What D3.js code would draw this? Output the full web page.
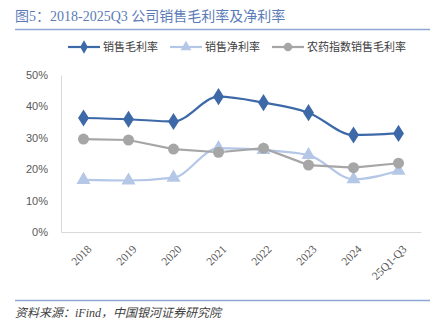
<!DOCTYPE html>
<html><head><meta charset="utf-8">
<script src="https://cdn.jsdelivr.net/npm/d3@7"></script>
<style>body{margin:0;background:#fff;} svg{display:block;}</style>
</head><body>
<svg id="c" width="437" height="331"></svg>
<script>
const categories = ["2018","2019","2020","2021","2022","2023","2024","25Q1-Q3"];
const grossMargin = [36.3, 35.9, 35.2, 43.1, 41.2, 38.0, 30.9, 31.4];
const netMargin = [16.6, 16.4, 17.3, 26.7, 26.1, 24.5, 16.8, 19.5];
const industryGross = [29.6, 29.3, 26.4, 25.4, 26.7, 21.3, 20.5, 21.9];
const yTicks = [0, 10, 20, 30, 40, 50];
const seriesNames = ["销售毛利率", "销售净利率", "农药指数销售毛利率"];

const svg = d3.select("#c");
const cjk = "'Liberation Serif','DejaVu Serif','Noto Sans CJK SC',serif";
const sans = "'Liberation Sans','Noto Sans CJK SC',sans-serif";

// title
svg.append("text").attr("x", 15).attr("y", 21).attr("fill", "#5B7BB8")
  .style("font-family", cjk).style("font-size", "14px").text("图5：2018-2025Q3 公司销售毛利率及净利率");
svg.append("line").attr("x1", 15).attr("x2", 430).attr("y1", 29.5).attr("y2", 29.5)
  .attr("stroke", "#8EA6D2").attr("stroke-width", 1.5);

const x = d3.scaleBand().domain(categories).range([61, 421]);
const y = d3.scaleLinear().domain([0, 50]).range([232, 75]);
const cx = d => x(d) + x.bandwidth() / 2;

// y axis
const ya = svg.append("g").attr("transform", "translate(61,0)")
  .call(d3.axisLeft(y).tickValues(yTicks).tickSize(0).tickPadding(13).tickFormat(d => d + "%"));
ya.select(".domain").attr("stroke", "#D9D9D9");
ya.selectAll("text").attr("fill", "#595959").style("font-family", sans).style("font-size", "11px");

// x axis
const xa = svg.append("g").attr("transform", "translate(0,232)")
  .call(d3.axisBottom(x).tickSize(0).tickFormat(d => d));
xa.select(".domain").attr("stroke", "#D9D9D9");
xa.selectAll("text").attr("fill", "#595959").style("font-family", "'Liberation Serif',serif").style("font-size", "11.5px")
  .attr("text-anchor", "end").attr("y", 0).attr("dy", "0.35em")
  .attr("transform", "translate(6,15) rotate(-45)");

const colors = ["#3E69A8", "#B4C7E7", "#A6A6A6"];
const data = [grossMargin, netMargin, industryGross];
const curves = [d3.curveMonotoneX, d3.curveMonotoneX, d3.curveLinear];
const symbols = [d3.symbolDiamond, d3.symbolTriangle, d3.symbolCircle];
const sizes = [85, 85, 95];

data.forEach((vals, i) => {
  const line = d3.line().x((d, j) => cx(categories[j])).y(d => y(d)).curve(curves[i]);
  svg.append("path").datum(vals).attr("d", line).attr("fill", "none")
    .attr("stroke", colors[i]).attr("stroke-width", 2.2);
});
data.forEach((vals, i) => {
  svg.append("g").selectAll("path").data(vals).join("path")
    .attr("d", d3.symbol().type(symbols[i]).size(sizes[i]))
    .attr("transform", (d, j) => `translate(${cx(categories[j])},${y(d)})${i===0?" scale(1.1,1)":""}`)
    .attr("fill", colors[i]);
});

// legend
const legX = [68, 170, 272];
seriesNames.forEach((n, i) => {
  const g = svg.append("g").attr("transform", `translate(${legX[i]},47)`);
  g.append("line").attr("x1", 0).attr("x2", 32).attr("stroke", colors[i]).attr("stroke-width", 2.2);
  g.append("path").attr("d", d3.symbol().type(symbols[i]).size(sizes[i] * 0.6)).attr("transform", "translate(16,0)").attr("fill", colors[i]);
  g.append("text").attr("x", 35).attr("y", 4).attr("fill", "#404040")
    .style("font-family", sans).style("font-size", "11px").text(n);
});

// source
svg.append("line").attr("x1", 15).attr("x2", 430).attr("y1", 300.5).attr("y2", 300.5)
  .attr("stroke", "#8EA6D2").attr("stroke-width", 1.5);
svg.append("text").attr("x", 15).attr("y", 317).attr("fill", "#404040")
  .style("font-family", cjk).style("font-size", "12px").style("font-style", "italic")
  .text("资料来源：iFind，中国银河证券研究院");
</script>
</body></html>
